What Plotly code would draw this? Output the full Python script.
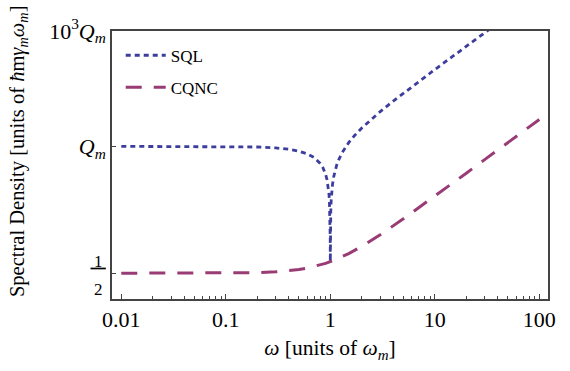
import plotly.graph_objects as go

# ---- data (omega in units of omega_m, S in units of hbar m gamma_m omega_m; Q_m = 1000)
omega_sql = [0.01, 0.02, 0.05, 0.1, 0.2, 0.3, 0.4, 0.5, 0.6, 0.7, 0.8, 0.85, 0.9, 0.93, 0.95,
             0.97, 0.98, 0.99, 0.995, 0.998, 0.999, 1.0, 1.001, 1.002, 1.005, 1.01, 1.02, 1.03,
             1.05, 1.08, 1.1, 1.15, 1.2, 1.3, 1.5, 1.7, 2, 2.5, 3, 4, 5, 7, 10, 15, 20, 30, 40]
s_sql = [999.9, 999.6, 997.5, 990, 960, 910, 840, 750, 640, 510, 360, 277.5, 190, 135.1, 97.5,
         59.1, 39.6, 19.9, 10.0, 4.12, 2.24, 1.0, 2.24, 4.13, 10.07, 20.1, 40.4, 60.9,
         102.5, 166.4, 210, 322.5, 440, 690, 1250, 1890, 3000, 5250, 8000, 15000, 24000,
         48000, 99000, 224000, 399000, 899000, 1599000]

omega_cqnc = [0.01, 0.02, 0.05, 0.1, 0.2, 0.3, 0.4, 0.5, 0.6, 0.7, 0.8, 0.9, 1.0, 1.2, 1.5,
              2, 3, 5, 7, 10, 20, 30, 50, 70, 100]
s_cqnc = [0.5, 0.5002, 0.5013, 0.505, 0.52, 0.545, 0.58, 0.625, 0.68, 0.745, 0.82, 0.905, 1.0,
          1.22, 1.625, 2.5, 5.0, 13.0, 25.0, 50.5, 200.5, 450.5, 1250.5, 2450.5, 5000.5]

x_tickvals = [0.01, 0.1, 1, 10, 100]
x_ticktext = ["0.01", "0.1", "1", "10", "100"]
x_minor = [m * d for d in [0.01, 0.1, 1, 10] for m in range(2, 10)]

y_tickvals = [0.5, 1000, 1e6]
y_ticktext = ['<span style="font-size:17px"><u>\u20091\u2009</u><br>2\u2009</span>',
              "<i>Q</i><sub><i>m</i></sub>",
              "10<sup>3</sup><i>Q</i><sub><i>m</i></sub>"]

FONT = "Liberation Serif"
C_SQL = "#3d3d9e"
C_CQNC = "#993b74"

fig = go.Figure()
fig.add_trace(go.Scatter(x=omega_sql, y=s_sql, mode="lines", name="SQL", legendgroup="a",
                         line=dict(color=C_SQL, width=2.8, dash="5px,4px")))
fig.add_trace(go.Scatter(x=omega_cqnc, y=s_cqnc, mode="lines", name="CQNC", legendgroup="b",
                         line=dict(color=C_CQNC, width=3, dash="16px,12px")))

axis_common = dict(showline=True, linecolor="#444", linewidth=1.5, mirror=True,
                   showgrid=False, zeroline=False, ticks="inside", tickcolor="#444",
                   tickfont=dict(family=FONT, size=22, color="black"))

fig.update_xaxes(type="log", range=[-2.089, 2.083], tickvals=x_tickvals, ticktext=x_ticktext,
                 ticklen=5, tickwidth=1,
                 minor=dict(tickvals=x_minor, ticks="inside", ticklen=3, tickcolor="#444"),
                 title=dict(text="<i>ω</i> [units of <i>ω</i><sub><i>m</i></sub>]",
                            font=dict(family=FONT, size=21.5, color="black"), standoff=9),
                 **axis_common)
fig.update_yaxes(type="log", range=[-0.971, 6.0], tickvals=y_tickvals, ticktext=y_ticktext,
                 ticklen=4, tickwidth=1, **axis_common)

fig.add_annotation(
    text="Spectral Density [units of <i>ħ</i>m<i>γ</i><sub><i>m</i></sub><i>ω</i><sub><i>m</i></sub>]",
    xref="paper", yref="paper", x=-0.2156, y=0.552, textangle=-90, showarrow=False,
    xanchor="center", yanchor="middle",
    font=dict(family=FONT, size=20.5, color="black"))

fig.update_layout(
    width=570, height=371,
    margin=dict(l=112, r=22, t=31, b=72, autoexpand=False),
    paper_bgcolor="white", plot_bgcolor="white",
    showlegend=True,
    legend=dict(x=0.02, y=0.975, xanchor="left", yanchor="top", bgcolor="rgba(0,0,0,0)",
                font=dict(family=FONT, size=17, color="black"), tracegroupgap=7,
                itemwidth=40),
)

fig.write_html("out.html")
